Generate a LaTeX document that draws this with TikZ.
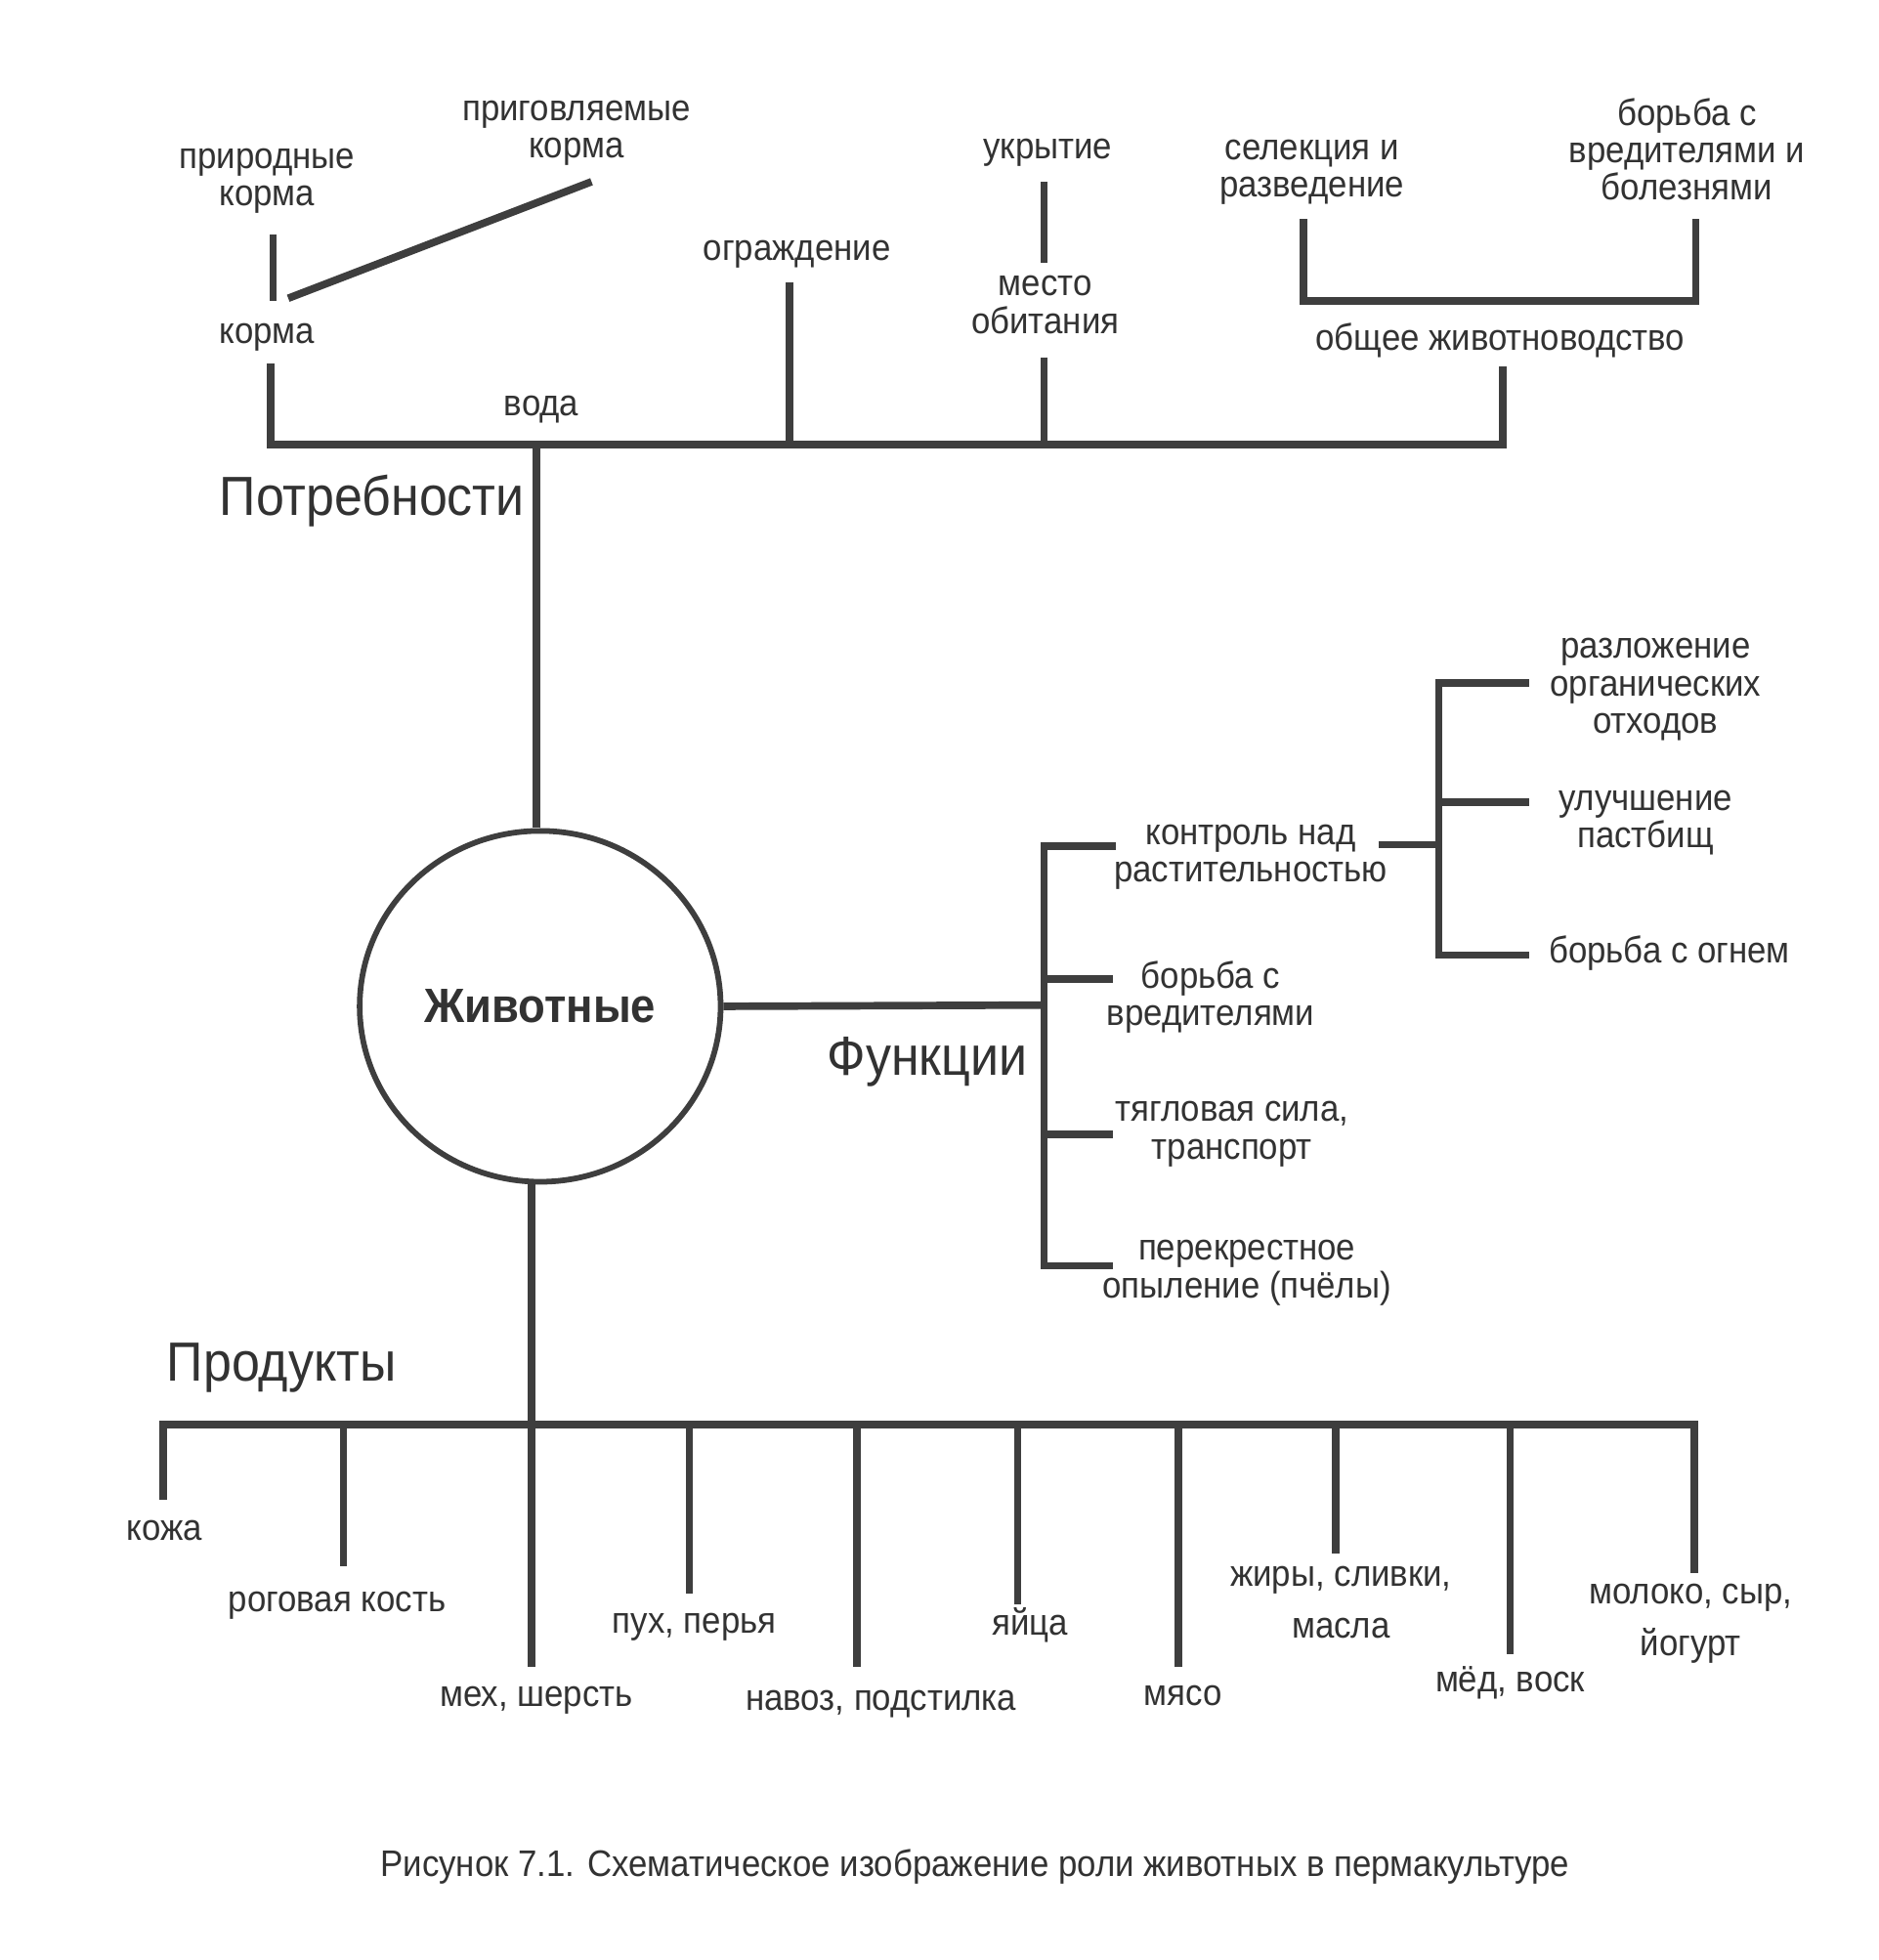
\documentclass[tikz,border=0pt]{standalone}
\usepackage{fontspec}
\setmainfont{Liberation Sans}[FakeStretch=0.92]
\usetikzlibrary{shapes.geometric}
\definecolor{linecol}{RGB}{62,62,62}
\definecolor{txtcol}{RGB}{50,50,50}
\begin{document}
\begin{tikzpicture}[x=1pt,y=-1pt,
  ln/.style={draw=linecol,line width=6pt},
  lbl/.style={text=txtcol,align=center,inner sep=0pt,
    font=\fontsize{29.5}{30}\selectfont,
    execute at begin node=\strut,execute at end node=\strut},
  big/.style={text=txtcol,inner sep=0pt,font=\fontsize{44}{48}\selectfont,anchor=base west},
  capt/.style={text=txtcol,inner sep=0pt,font=\fontsize{29.5}{30}\selectfont,
    execute at begin node=\strut}]
\useasboundingbox[fill=white] (0,0) rectangle (1499,1564);

% ---------- Needs ----------
\node[lbl] (prirod) at (213,146) {природные\\корма};
\node[lbl] (prigov) at (460,107.5) {приговляемые\\корма};
\node[lbl] (korma)  at (213,268) {корма};
\node[lbl] (voda)   at (432,326) {вода};
\node[lbl] (ograzh) at (636,201.5) {ограждение};
\node[lbl] (ukryt)  at (836,121) {укрытие};
\node[lbl] (mesto)  at (834,247.5) {место\\обитания};
\node[lbl] (selek)  at (1047,139) {селекция и\\разведение};
\node[lbl] (borbaB) at (1346,123.5) {борьба с\\вредителями и\\болезнями};
\node[lbl] (obshee) at (1197,273) {общее животноводство};
\node[big] (potreb) at (175,411) {Потребности};

\node[ellipse,draw=linecol,line width=4.5pt,minimum width=288pt,minimum height=280pt,
  inner sep=0pt,text=txtcol,font=\bfseries\fontsize{38.5}{40}\selectfont] (animal) at (431,803) {Животные};

\coordinate (pkTop) at (218,187);
\coordinate (pkBot) at (218,240);
\draw[ln] (pkTop) -- (pkBot);
\coordinate (pgA) at (230,238);
\coordinate (pgB) at (472,145);
\draw[ln] (pgA) -- (pgB);
\coordinate (kTop) at (216,290);
\coordinate (nL) at (216,355);
\coordinate (nR) at (1199,355);
\coordinate (oTop) at (1199,292);
\draw[ln] (kTop) -- (nL) -- (nR) -- (oTop);
\coordinate (ogTop) at (630,225);
\draw[ln] (ogTop) -- (ogTop |- nL);
\coordinate (ukTop) at (833,145);
\coordinate (ukBot) at (833,210);
\draw[ln] (ukTop) -- (ukBot);
\coordinate (meTop) at (833,285);
\draw[ln] (meTop) -- (meTop |- nL);
\coordinate (brL) at (1040,175);
\coordinate (brLB) at (1040,240);
\coordinate (brRB) at (1353,240);
\coordinate (brR) at (1353,175);
\draw[ln] (brL) -- (brLB) -- (brRB) -- (brR);
\coordinate (nJ) at (428,355);
\draw[ln] (nJ) -- (nJ |- animal.north);

% ---------- Functions ----------
\node[big] (funk) at (660,858) {Функции};
\node[lbl] (kontr) at (998,685.5) {контроль над\\растительностью};
\node[lbl] (borV)  at (966,797) {борьба с\\вредителями};
\node[lbl] (tyag)  at (983,906.5) {тягловая сила,\\транспорт};
\node[lbl] (perek) at (995,1017) {перекрестное\\опыление (пчёлы)};
\node[lbl] (razl)  at (1321,552) {разложение\\органических\\отходов};
\node[lbl] (uluch) at (1313,658) {улучшение\\пастбищ};
\node[lbl] (ogon)  at (1332,762) {борьба с огнем};

\coordinate (fJ) at (833,802);
\draw[ln] (animal.east) -- (fJ);
\coordinate (fT) at (833,675);
\coordinate (fB) at (833,1010);
\draw[ln] (890,675) -- (fT) -- (fB) -- (888,1010);
\draw[ln] (833,781) -- (888,781);
\draw[ln] (833,905) -- (888,905);
\coordinate (kJ) at (1148,674);
\draw[ln] (1100,674) -- (kJ);
\coordinate (sT) at (1148,545);
\coordinate (sB) at (1148,762);
\draw[ln] (1220,545) -- (sT) -- (sB) -- (1220,762);
\draw[ln] (1148,640) -- (1220,640);

% ---------- Products ----------
\node[big] (prod) at (133,1102) {Продукты};
\coordinate (pJ) at (424,1137);
\draw[ln] (pJ |- animal.south) -- (pJ) -- (424,1330);
\coordinate (pbL) at (130,1137);
\coordinate (pbR) at (1352,1137);
\draw[ln] (130,1197) -- (pbL) -- (pbR) -- (1352,1255);
\foreach \x/\yb in {274/1250,550/1272,684/1330,812/1280,940/1330,1066/1240,1205/1320}
  \draw[ln] (\x,1137) -- (\x,\yb);

\node[lbl] (kozha) at (131,1223) {кожа};
\node[lbl] (rog)   at (269,1280) {роговая кость};
\node[lbl] (meh)   at (428,1356) {мех, шерсть};
\node[lbl] (puh)   at (554,1297) {пух, перья};
\node[lbl] (navoz) at (703,1359) {навоз, подстилка};
\node[lbl] (yaic)  at (822,1298) {яйца};
\node[lbl] (myaso) at (944,1355) {мясо};
\node[lbl] (zhir)  at (1070,1283) {жиры, сливки,\\[11pt]масла};
\node[lbl] (med)   at (1205,1344) {мёд, воск};
\node[lbl] (milk)  at (1349,1297) {молоко, сыр,\\[11pt]йогурт};

\node[capt] (cap) at (778,1491) {Рисунок 7.1. Схематическое изображение роли животных в пермакультуре};
\end{tikzpicture}
\end{document}
